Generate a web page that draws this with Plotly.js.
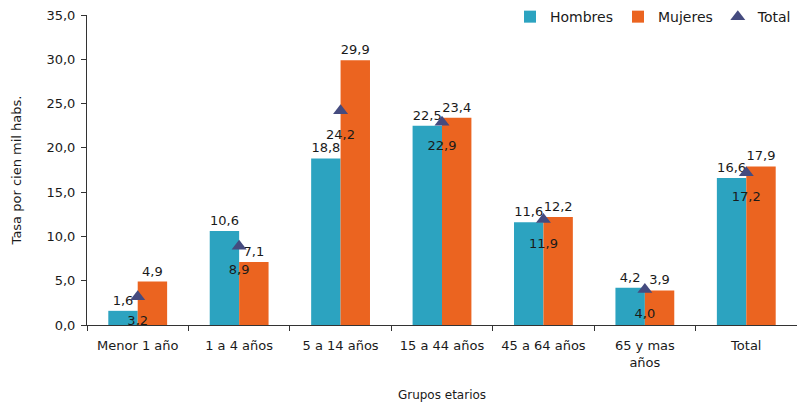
<!DOCTYPE html>
<html>
<head>
<meta charset="utf-8">
<script src="https://cdn.plot.ly/plotly-3.0.1.min.js"></script>
<style>html,body{margin:0;padding:0;background:#fff;}#chart{width:797px;height:402px;}</style>
</head>
<body>
<div id="chart"></div>
<script>
const categories = ["Menor 1 año", "1 a 4 años", "5 a 14 años", "15 a 44 años", "45 a 64 años", "65 y mas<br>años", "Total"];
const hombres = [1.6, 10.6, 18.8, 22.5, 11.6, 4.2, 16.6];
const mujeres = [4.9, 7.1, 29.9, 23.4, 12.2, 3.9, 17.9];
const total = [3.2, 8.9, 24.2, 22.9, 11.9, 4.0, 17.2];
const yTicks = [0, 5, 10, 15, 20, 25, 30, 35];

const fmt = v => v.toFixed(1).replace('.', ',');
const FONT = "DejaVu Sans, Verdana, sans-serif";

const traces = [
  {type: 'bar', name: 'Hombres', x: categories, y: hombres,
   marker: {color: '#2CA3C0'}, text: hombres.map(fmt), textposition: 'outside',
   constraintext: 'none',
   textfont: {family: FONT, size: 13, color: '#1a1a1a'}, cliponaxis: false},
  {type: 'bar', name: 'Mujeres', x: categories, y: mujeres,
   marker: {color: '#EB6420'}, text: mujeres.map(fmt), textposition: 'outside',
   constraintext: 'none',
   textfont: {family: FONT, size: 13, color: '#1a1a1a'}, cliponaxis: false},
  {type: 'scatter', mode: 'markers', name: 'Total', x: categories, y: total,
   marker: {symbol: 'triangle-up', size: 13, color: '#454B7F'}, cliponaxis: false},
  // labels for the Total series, placed a little further below the triangles
  {type: 'scatter', mode: 'markers+text', name: 'Total', showlegend: false,
   x: categories, y: total,
   marker: {size: 28, color: 'rgba(0,0,0,0)'},
   text: total.map(fmt), textposition: 'bottom center',
   textfont: {family: FONT, size: 13, color: '#1a1a1a'}, cliponaxis: false}
];

const layout = {
  width: 797, height: 402,
  margin: {l: 87, r: 0, t: 15, b: 77},
  paper_bgcolor: '#fff', plot_bgcolor: '#fff',
  font: {family: FONT, size: 13, color: '#1a1a1a'},
  barmode: 'group', bargap: 0.42, bargroupgap: 0,
  showlegend: true,
  legend: {orientation: 'h', x: 1, xanchor: 'right', y: 1.045, yanchor: 'top',
           bgcolor: 'rgba(0,0,0,0)',
           font: {family: FONT, size: 14}, itemwidth: 30, traceorder: 'normal'},
  xaxis: {
    range: [-0.5, categories.length - 0.5],
    showline: true, linecolor: '#333', linewidth: 1,
    ticks: 'outside', tickson: 'boundaries', ticklen: 5, tickcolor: '#333',
    tickfont: {family: FONT, size: 13}, tickangle: 0, ticklabelstandoff: 8,
    title: {text: 'Grupos etarios', font: {family: FONT, size: 12}, standoff: 22}
  },
  yaxis: {
    range: [0, 35], tickvals: yTicks, ticktext: yTicks.map(fmt),
    showline: true, linecolor: '#333', linewidth: 1, showgrid: false, zeroline: false,
    ticks: 'outside', ticklen: 5, tickcolor: '#333', ticklabelstandoff: 3,
    tickfont: {family: FONT, size: 13},
    title: {text: 'Tasa por cien mil habs.', font: {family: FONT, size: 13}, standoff: 21}
  }
};

Plotly.newPlot('chart', traces, layout, {displayModeBar: false, staticPlot: true});
</script>
</body>
</html>
